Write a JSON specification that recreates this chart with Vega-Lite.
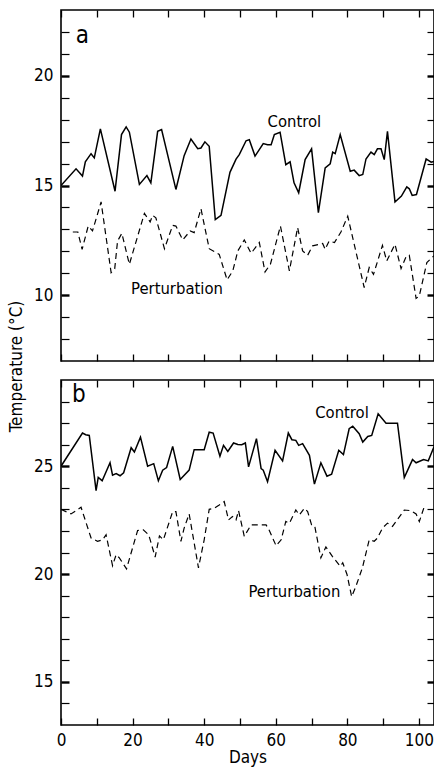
{
  "$schema": "https://vega.github.io/schema/vega-lite/v6.json",
  "padding": {"left": 6, "top": 8, "right": 1, "bottom": 2},
  "spacing": 19,
  "bounds": "flush",
  "datasets": {
    "temps": [
      {"panel":"a","series":"Control","day":0,"temp":15.0},
      {"panel":"a","series":"Control","day":4.2,"temp":15.76},
      {"panel":"a","series":"Control","day":6.0,"temp":15.43},
      {"panel":"a","series":"Control","day":6.8,"temp":16.08},
      {"panel":"a","series":"Control","day":8.4,"temp":16.45},
      {"panel":"a","series":"Control","day":9.3,"temp":16.26},
      {"panel":"a","series":"Control","day":11.0,"temp":17.58},
      {"panel":"a","series":"Control","day":15.1,"temp":14.74},
      {"panel":"a","series":"Control","day":16.9,"temp":17.32},
      {"panel":"a","series":"Control","day":18.2,"temp":17.67},
      {"panel":"a","series":"Control","day":19.1,"temp":17.43},
      {"panel":"a","series":"Control","day":21.9,"temp":15.05},
      {"panel":"a","series":"Control","day":24.0,"temp":15.45},
      {"panel":"a","series":"Control","day":25.1,"temp":15.12},
      {"panel":"a","series":"Control","day":27.0,"temp":17.47},
      {"panel":"a","series":"Control","day":28.1,"temp":17.55},
      {"panel":"a","series":"Control","day":32.1,"temp":14.82},
      {"panel":"a","series":"Control","day":34.4,"temp":16.36},
      {"panel":"a","series":"Control","day":36.3,"temp":17.12},
      {"panel":"a","series":"Control","day":38.2,"temp":16.68},
      {"panel":"a","series":"Control","day":39.1,"temp":16.71},
      {"panel":"a","series":"Control","day":40.2,"temp":16.99},
      {"panel":"a","series":"Control","day":41.4,"temp":16.79},
      {"panel":"a","series":"Control","day":43.1,"temp":13.45},
      {"panel":"a","series":"Control","day":44.7,"temp":13.64},
      {"panel":"a","series":"Control","day":47.2,"temp":15.6},
      {"panel":"a","series":"Control","day":48.9,"temp":16.2},
      {"panel":"a","series":"Control","day":49.8,"temp":16.41},
      {"panel":"a","series":"Control","day":51.7,"temp":17.04},
      {"panel":"a","series":"Control","day":52.6,"temp":17.09},
      {"panel":"a","series":"Control","day":54.2,"temp":16.34},
      {"panel":"a","series":"Control","day":56.5,"temp":16.91},
      {"panel":"a","series":"Control","day":57.7,"temp":16.86},
      {"panel":"a","series":"Control","day":58.7,"temp":16.86},
      {"panel":"a","series":"Control","day":59.6,"temp":17.32},
      {"panel":"a","series":"Control","day":61.2,"temp":17.43},
      {"panel":"a","series":"Control","day":62.8,"temp":15.95},
      {"panel":"a","series":"Control","day":64.0,"temp":16.08},
      {"panel":"a","series":"Control","day":65.1,"temp":15.12},
      {"panel":"a","series":"Control","day":66.4,"temp":14.67},
      {"panel":"a","series":"Control","day":68.2,"temp":16.18},
      {"panel":"a","series":"Control","day":70.0,"temp":16.67},
      {"panel":"a","series":"Control","day":71.9,"temp":13.76},
      {"panel":"a","series":"Control","day":73.8,"temp":15.8},
      {"panel":"a","series":"Control","day":75.2,"temp":15.99},
      {"panel":"a","series":"Control","day":75.9,"temp":16.52},
      {"panel":"a","series":"Control","day":76.6,"temp":16.45},
      {"panel":"a","series":"Control","day":78.0,"temp":17.32},
      {"panel":"a","series":"Control","day":80.8,"temp":15.65},
      {"panel":"a","series":"Control","day":81.9,"temp":15.7},
      {"panel":"a","series":"Control","day":83.3,"temp":15.45},
      {"panel":"a","series":"Control","day":84.3,"temp":15.5},
      {"panel":"a","series":"Control","day":85.2,"temp":16.21},
      {"panel":"a","series":"Control","day":86.6,"temp":16.52},
      {"panel":"a","series":"Control","day":87.5,"temp":16.41},
      {"panel":"a","series":"Control","day":88.4,"temp":16.67},
      {"panel":"a","series":"Control","day":89.4,"temp":16.67},
      {"panel":"a","series":"Control","day":90.3,"temp":16.18},
      {"panel":"a","series":"Control","day":91.2,"temp":17.47},
      {"panel":"a","series":"Control","day":93.3,"temp":14.25},
      {"panel":"a","series":"Control","day":95.1,"temp":14.52},
      {"panel":"a","series":"Control","day":96.6,"temp":14.94},
      {"panel":"a","series":"Control","day":97.3,"temp":14.85},
      {"panel":"a","series":"Control","day":98.1,"temp":14.55},
      {"panel":"a","series":"Control","day":99.3,"temp":14.59},
      {"panel":"a","series":"Control","day":102.0,"temp":16.21},
      {"panel":"a","series":"Control","day":103.4,"temp":16.06},
      {"panel":"a","series":"Control","day":104.2,"temp":16.1},
      {"panel":"a","series":"Perturbation","day":3.3,"temp":12.88},
      {"panel":"a","series":"Perturbation","day":4.7,"temp":12.88},
      {"panel":"a","series":"Perturbation","day":5.9,"temp":12.09},
      {"panel":"a","series":"Perturbation","day":7.6,"temp":13.15},
      {"panel":"a","series":"Perturbation","day":8.8,"temp":12.93},
      {"panel":"a","series":"Perturbation","day":11.2,"temp":14.25},
      {"panel":"a","series":"Perturbation","day":14.0,"temp":11.03},
      {"panel":"a","series":"Perturbation","day":15.0,"temp":11.2},
      {"panel":"a","series":"Perturbation","day":15.8,"temp":12.47},
      {"panel":"a","series":"Perturbation","day":17.0,"temp":12.82},
      {"panel":"a","series":"Perturbation","day":19.1,"temp":11.41},
      {"panel":"a","series":"Perturbation","day":23.3,"temp":13.73},
      {"panel":"a","series":"Perturbation","day":24.9,"temp":13.34},
      {"panel":"a","series":"Perturbation","day":25.6,"temp":13.64},
      {"panel":"a","series":"Perturbation","day":26.5,"temp":13.53},
      {"panel":"a","series":"Perturbation","day":28.9,"temp":12.12},
      {"panel":"a","series":"Perturbation","day":31.2,"temp":13.18},
      {"panel":"a","series":"Perturbation","day":32.1,"temp":13.15},
      {"panel":"a","series":"Perturbation","day":34.0,"temp":12.52},
      {"panel":"a","series":"Perturbation","day":36.1,"temp":12.93},
      {"panel":"a","series":"Perturbation","day":37.2,"temp":12.85},
      {"panel":"a","series":"Perturbation","day":39.1,"temp":13.94},
      {"panel":"a","series":"Perturbation","day":41.4,"temp":12.12},
      {"panel":"a","series":"Perturbation","day":44.2,"temp":11.86},
      {"panel":"a","series":"Perturbation","day":46.4,"temp":10.7},
      {"panel":"a","series":"Perturbation","day":48.0,"temp":11.11},
      {"panel":"a","series":"Perturbation","day":49.4,"temp":12.02},
      {"panel":"a","series":"Perturbation","day":51.2,"temp":12.52},
      {"panel":"a","series":"Perturbation","day":53.1,"temp":11.91},
      {"panel":"a","series":"Perturbation","day":55.4,"temp":12.4},
      {"panel":"a","series":"Perturbation","day":57.0,"temp":11.06},
      {"panel":"a","series":"Perturbation","day":58.5,"temp":11.41},
      {"panel":"a","series":"Perturbation","day":61.3,"temp":13.15},
      {"panel":"a","series":"Perturbation","day":63.8,"temp":11.11},
      {"panel":"a","series":"Perturbation","day":66.1,"temp":13.08},
      {"panel":"a","series":"Perturbation","day":67.5,"temp":12.02},
      {"panel":"a","series":"Perturbation","day":68.9,"temp":11.82},
      {"panel":"a","series":"Perturbation","day":70.3,"temp":12.25},
      {"panel":"a","series":"Perturbation","day":73.1,"temp":12.36},
      {"panel":"a","series":"Perturbation","day":73.8,"temp":12.09},
      {"panel":"a","series":"Perturbation","day":74.9,"temp":12.47},
      {"panel":"a","series":"Perturbation","day":76.4,"temp":12.4},
      {"panel":"a","series":"Perturbation","day":78.2,"temp":12.88},
      {"panel":"a","series":"Perturbation","day":80.1,"temp":13.6},
      {"panel":"a","series":"Perturbation","day":84.7,"temp":10.35},
      {"panel":"a","series":"Perturbation","day":86.1,"temp":11.26},
      {"panel":"a","series":"Perturbation","day":87.3,"temp":10.95},
      {"panel":"a","series":"Perturbation","day":89.8,"temp":12.27},
      {"panel":"a","series":"Perturbation","day":91.0,"temp":11.56},
      {"panel":"a","series":"Perturbation","day":93.3,"temp":12.32},
      {"panel":"a","series":"Perturbation","day":95.0,"temp":11.21},
      {"panel":"a","series":"Perturbation","day":96.4,"temp":11.76},
      {"panel":"a","series":"Perturbation","day":97.3,"temp":11.82},
      {"panel":"a","series":"Perturbation","day":99.2,"temp":9.85},
      {"panel":"a","series":"Perturbation","day":100.1,"temp":9.97},
      {"panel":"a","series":"Perturbation","day":102.2,"temp":11.49},
      {"panel":"a","series":"Perturbation","day":103.4,"temp":11.67},
      {"panel":"a","series":"Perturbation","day":104.2,"temp":11.8},
      {"panel":"b","series":"Control","day":0,"temp":25.0},
      {"panel":"b","series":"Control","day":6.0,"temp":26.54},
      {"panel":"b","series":"Control","day":6.9,"temp":26.46},
      {"panel":"b","series":"Control","day":7.9,"temp":26.43},
      {"panel":"b","series":"Control","day":9.8,"temp":23.87},
      {"panel":"b","series":"Control","day":10.4,"temp":24.48},
      {"panel":"b","series":"Control","day":11.5,"temp":24.33},
      {"panel":"b","series":"Control","day":13.7,"temp":25.16},
      {"panel":"b","series":"Control","day":14.4,"temp":24.59},
      {"panel":"b","series":"Control","day":15.4,"temp":24.66},
      {"panel":"b","series":"Control","day":16.5,"temp":24.56},
      {"panel":"b","series":"Control","day":17.5,"temp":24.7},
      {"panel":"b","series":"Control","day":19.6,"temp":25.86},
      {"panel":"b","series":"Control","day":20.5,"temp":25.66},
      {"panel":"b","series":"Control","day":22.2,"temp":26.35},
      {"panel":"b","series":"Control","day":24.2,"temp":25.0},
      {"panel":"b","series":"Control","day":25.9,"temp":25.12},
      {"panel":"b","series":"Control","day":27.2,"temp":24.33},
      {"panel":"b","series":"Control","day":28.4,"temp":24.82},
      {"panel":"b","series":"Control","day":29.5,"temp":24.94},
      {"panel":"b","series":"Control","day":31.2,"temp":25.92},
      {"panel":"b","series":"Control","day":33.3,"temp":24.39},
      {"panel":"b","series":"Control","day":35.8,"temp":24.82},
      {"panel":"b","series":"Control","day":37.2,"temp":25.77},
      {"panel":"b","series":"Control","day":40.0,"temp":25.77},
      {"panel":"b","series":"Control","day":41.4,"temp":26.58},
      {"panel":"b","series":"Control","day":42.5,"temp":26.54},
      {"panel":"b","series":"Control","day":44.4,"temp":25.46},
      {"panel":"b","series":"Control","day":45.4,"temp":25.97},
      {"panel":"b","series":"Control","day":46.6,"temp":25.69},
      {"panel":"b","series":"Control","day":48.2,"temp":26.08},
      {"panel":"b","series":"Control","day":49.4,"temp":26.01},
      {"panel":"b","series":"Control","day":50.5,"temp":26.0},
      {"panel":"b","series":"Control","day":51.5,"temp":26.08},
      {"panel":"b","series":"Control","day":52.4,"temp":24.97},
      {"panel":"b","series":"Control","day":54.6,"temp":26.28},
      {"panel":"b","series":"Control","day":55.9,"temp":24.89},
      {"panel":"b","series":"Control","day":56.5,"temp":24.82},
      {"panel":"b","series":"Control","day":57.7,"temp":24.28},
      {"panel":"b","series":"Control","day":59.8,"temp":25.74},
      {"panel":"b","series":"Control","day":61.9,"temp":25.25},
      {"panel":"b","series":"Control","day":63.5,"temp":26.54},
      {"panel":"b","series":"Control","day":64.5,"temp":26.23},
      {"panel":"b","series":"Control","day":65.6,"temp":26.2},
      {"panel":"b","series":"Control","day":66.4,"temp":25.97},
      {"panel":"b","series":"Control","day":67.5,"temp":26.05},
      {"panel":"b","series":"Control","day":69.4,"temp":25.51},
      {"panel":"b","series":"Control","day":70.8,"temp":24.17},
      {"panel":"b","series":"Control","day":72.6,"temp":25.16},
      {"panel":"b","series":"Control","day":74.3,"temp":24.54},
      {"panel":"b","series":"Control","day":75.6,"temp":24.63},
      {"panel":"b","series":"Control","day":77.6,"temp":25.74},
      {"panel":"b","series":"Control","day":78.9,"temp":25.54},
      {"panel":"b","series":"Control","day":80.5,"temp":26.74},
      {"panel":"b","series":"Control","day":81.5,"temp":26.86},
      {"panel":"b","series":"Control","day":83.3,"temp":26.51},
      {"panel":"b","series":"Control","day":84.3,"temp":26.12},
      {"panel":"b","series":"Control","day":85.7,"temp":26.38},
      {"panel":"b","series":"Control","day":86.8,"temp":26.43},
      {"panel":"b","series":"Control","day":88.6,"temp":27.43},
      {"panel":"b","series":"Control","day":90.8,"temp":27.0},
      {"panel":"b","series":"Control","day":94.0,"temp":27.0},
      {"panel":"b","series":"Control","day":95.9,"temp":24.48},
      {"panel":"b","series":"Control","day":98.2,"temp":25.31},
      {"panel":"b","series":"Control","day":99.2,"temp":25.16},
      {"panel":"b","series":"Control","day":101.3,"temp":25.31},
      {"panel":"b","series":"Control","day":102.6,"temp":25.25},
      {"panel":"b","series":"Control","day":104.2,"temp":25.9},
      {"panel":"b","series":"Perturbation","day":0,"temp":23.0},
      {"panel":"b","series":"Perturbation","day":2.8,"temp":22.79},
      {"panel":"b","series":"Perturbation","day":5.6,"temp":23.1},
      {"panel":"b","series":"Perturbation","day":8.4,"temp":21.67},
      {"panel":"b","series":"Perturbation","day":10.2,"temp":21.52},
      {"panel":"b","series":"Perturbation","day":11.6,"temp":21.59},
      {"panel":"b","series":"Perturbation","day":12.6,"temp":21.82},
      {"panel":"b","series":"Perturbation","day":14.4,"temp":20.39},
      {"panel":"b","series":"Perturbation","day":15.4,"temp":20.9},
      {"panel":"b","series":"Perturbation","day":16.3,"temp":20.75},
      {"panel":"b","series":"Perturbation","day":18.3,"temp":20.24},
      {"panel":"b","series":"Perturbation","day":21.4,"temp":22.02},
      {"panel":"b","series":"Perturbation","day":23.0,"temp":22.05},
      {"panel":"b","series":"Perturbation","day":24.5,"temp":21.82},
      {"panel":"b","series":"Perturbation","day":26.3,"temp":20.79},
      {"panel":"b","series":"Perturbation","day":27.5,"temp":21.77},
      {"panel":"b","series":"Perturbation","day":28.6,"temp":21.59},
      {"panel":"b","series":"Perturbation","day":31.2,"temp":22.9},
      {"panel":"b","series":"Perturbation","day":32.1,"temp":22.9},
      {"panel":"b","series":"Perturbation","day":33.5,"temp":21.52},
      {"panel":"b","series":"Perturbation","day":34.4,"temp":22.13},
      {"panel":"b","series":"Perturbation","day":35.8,"temp":22.79},
      {"panel":"b","series":"Perturbation","day":38.4,"temp":20.29},
      {"panel":"b","series":"Perturbation","day":40.0,"temp":21.59},
      {"panel":"b","series":"Perturbation","day":41.4,"temp":23.0},
      {"panel":"b","series":"Perturbation","day":42.8,"temp":23.05},
      {"panel":"b","series":"Perturbation","day":44.2,"temp":23.2},
      {"panel":"b","series":"Perturbation","day":45.6,"temp":23.36},
      {"panel":"b","series":"Perturbation","day":46.8,"temp":22.51},
      {"panel":"b","series":"Perturbation","day":47.9,"temp":22.67},
      {"panel":"b","series":"Perturbation","day":48.9,"temp":22.51},
      {"panel":"b","series":"Perturbation","day":49.6,"temp":22.94},
      {"panel":"b","series":"Perturbation","day":51.2,"temp":21.75},
      {"panel":"b","series":"Perturbation","day":53.1,"temp":22.28},
      {"panel":"b","series":"Perturbation","day":54.9,"temp":22.28},
      {"panel":"b","series":"Perturbation","day":57.3,"temp":22.28},
      {"panel":"b","series":"Perturbation","day":58.2,"temp":22.02},
      {"panel":"b","series":"Perturbation","day":60.1,"temp":21.31},
      {"panel":"b","series":"Perturbation","day":61.5,"temp":21.59},
      {"panel":"b","series":"Perturbation","day":62.8,"temp":22.44},
      {"panel":"b","series":"Perturbation","day":63.8,"temp":22.36},
      {"panel":"b","series":"Perturbation","day":65.6,"temp":22.97},
      {"panel":"b","series":"Perturbation","day":66.6,"temp":22.74},
      {"panel":"b","series":"Perturbation","day":68.0,"temp":23.05},
      {"panel":"b","series":"Perturbation","day":68.9,"temp":22.9},
      {"panel":"b","series":"Perturbation","day":70.0,"temp":22.28},
      {"panel":"b","series":"Perturbation","day":70.9,"temp":22.21},
      {"panel":"b","series":"Perturbation","day":72.6,"temp":20.75},
      {"panel":"b","series":"Perturbation","day":74.0,"temp":21.26},
      {"panel":"b","series":"Perturbation","day":75.8,"temp":20.82},
      {"panel":"b","series":"Perturbation","day":78.0,"temp":20.36},
      {"panel":"b","series":"Perturbation","day":78.7,"temp":20.52},
      {"panel":"b","series":"Perturbation","day":79.9,"temp":19.98},
      {"panel":"b","series":"Perturbation","day":81.2,"temp":18.95},
      {"panel":"b","series":"Perturbation","day":82.4,"temp":19.44},
      {"panel":"b","series":"Perturbation","day":84.2,"temp":20.29},
      {"panel":"b","series":"Perturbation","day":86.1,"temp":21.59},
      {"panel":"b","series":"Perturbation","day":87.5,"temp":21.52},
      {"panel":"b","series":"Perturbation","day":88.4,"temp":21.67},
      {"panel":"b","series":"Perturbation","day":89.8,"temp":22.13},
      {"panel":"b","series":"Perturbation","day":91.2,"temp":22.36},
      {"panel":"b","series":"Perturbation","day":92.6,"temp":22.21},
      {"panel":"b","series":"Perturbation","day":95.9,"temp":22.97},
      {"panel":"b","series":"Perturbation","day":97.8,"temp":22.94},
      {"panel":"b","series":"Perturbation","day":99.2,"temp":22.79},
      {"panel":"b","series":"Perturbation","day":100.1,"temp":22.44},
      {"panel":"b","series":"Perturbation","day":101.5,"temp":23.13}
    ],
    "labels": [
      {"panel":"a","kind":"letter","label":"a","day":6,"temp":21.8},
      {"panel":"a","kind":"series","label":"Control","day":65.2,"temp":17.9},
      {"panel":"a","kind":"series","label":"Perturbation","day":32.4,"temp":10.3},
      {"panel":"b","kind":"letter","label":"b","day":5,"temp":28.3},
      {"panel":"b","kind":"series","label":"Control","day":78.5,"temp":27.46},
      {"panel":"b","kind":"series","label":"Perturbation","day":65.2,"temp":19.17}
    ]
  },
  "vconcat": [
    {
      "width": 373,
      "height": 351,
      "resolve": {"axis": {"x": "independent", "y": "independent"}},
      "layer": [
        {
          "data": {"name": "temps"},
          "transform": [{"filter": "datum.panel === 'a' && datum.series === 'Control'"}],
          "mark": {"type": "line", "color": "black", "strokeWidth": 1.5, "clip": true},
          "encoding": {
            "x": {"field": "day", "type": "quantitative", "scale": {"domain": [0, 104.2], "nice": false, "zero": false},
                  "axis": {"orient": "bottom", "values": [0,10,20,30,40,50,60,70,80,90,100], "labels": false, "domain": false, "offset": -7, "tickSize": 7, "tickWidth": 1.3, "title": null}},
            "y": {"field": "temp", "type": "quantitative", "scale": {"domain": [7, 23], "nice": false, "zero": false},
                  "axis": {"orient": "left", "values": [8,9,10,11,12,13,14,15,16,17,18,19,20,21,22],
                           "labelExpr": "datum.value % 5 === 0 ? datum.label : ''",
                           "domain": false, "offset": -8, "tickSize": 8,
                           "tickWidth": {"condition": {"test": "datum.value % 5 === 0", "value": 2.4}, "value": 1.2},
                           "labelPadding": 8,
                           "title": "Temperature (°C)", "titleAngle": -90, "titleX": -53, "titleY": 356,
                           "titleAlign": "center", "titleBaseline": "middle"}}
          }
        },
        {
          "data": {"name": "temps"},
          "transform": [{"filter": "datum.panel === 'a' && datum.series === 'Perturbation'"}],
          "mark": {"type": "line", "color": "black", "strokeWidth": 1.2, "strokeDash": [6, 4], "clip": true},
          "encoding": {
            "x": {"field": "day", "type": "quantitative", "scale": {"domain": [0, 104.2], "nice": false, "zero": false},
                  "axis": {"orient": "top", "values": [0,10,20,30,40,50,60,70,80,90,100], "labels": false, "domain": false, "offset": -7, "tickSize": 7, "tickWidth": 1.3, "title": null}},
            "y": {"field": "temp", "type": "quantitative", "scale": {"domain": [7, 23], "nice": false, "zero": false},
                  "axis": {"orient": "right", "values": [8,9,10,11,12,13,14,15,16,17,18,19,20,21,22], "labels": false,
                           "domain": false, "offset": -7, "tickSize": 7,
                           "tickWidth": {"condition": {"test": "datum.value % 5 === 0", "value": 2.4}, "value": 1.2},
                           "title": null}}
          }
        },
        {
          "data": {"name": "labels"},
          "transform": [{"filter": "datum.panel === 'a' && datum.kind === 'series'"}],
          "mark": {"type": "text", "fontSize": 16.5, "color": "black", "align": "center", "baseline": "middle"},
          "encoding": {
            "x": {"field": "day", "type": "quantitative", "scale": {"domain": [0, 104.2], "nice": false, "zero": false}, "axis": null},
            "y": {"field": "temp", "type": "quantitative", "scale": {"domain": [7, 23], "nice": false, "zero": false}, "axis": null},
            "text": {"field": "label"}
          }
        },
        {
          "data": {"name": "labels"},
          "transform": [{"filter": "datum.panel === 'a' && datum.kind === 'letter'"}],
          "mark": {"type": "text", "fontSize": 24, "color": "black", "align": "center", "baseline": "middle"},
          "encoding": {
            "x": {"field": "day", "type": "quantitative", "scale": {"domain": [0, 104.2], "nice": false, "zero": false}, "axis": null},
            "y": {"field": "temp", "type": "quantitative", "scale": {"domain": [7, 23], "nice": false, "zero": false}, "axis": null},
            "text": {"field": "label"}
          }
        }
      ]
    },
    {
      "width": 373,
      "height": 345,
      "resolve": {"axis": {"x": "independent", "y": "independent"}},
      "layer": [
        {
          "data": {"name": "temps"},
          "transform": [{"filter": "datum.panel === 'b' && datum.series === 'Control'"}],
          "mark": {"type": "line", "color": "black", "strokeWidth": 1.5, "clip": true},
          "encoding": {
            "x": {"field": "day", "type": "quantitative", "scale": {"domain": [0, 104.2], "nice": false, "zero": false},
                  "axis": {"orient": "bottom", "values": [0,10,20,30,40,50,60,70,80,90,100],
                           "labelExpr": "datum.value % 20 === 0 ? datum.label : ''", "labelFlush": false,
                           "domain": false, "offset": -7, "tickSize": 7, "tickWidth": 1.3, "labelPadding": 7, "title": "Days", "titlePadding": 1}},
            "y": {"field": "temp", "type": "quantitative", "scale": {"domain": [13, 29], "nice": false, "zero": false},
                  "axis": {"orient": "left", "values": [14,15,16,17,18,19,20,21,22,23,24,25,26,27,28],
                           "labelExpr": "datum.value % 5 === 0 ? datum.label : ''",
                           "domain": false, "offset": -8, "tickSize": 8,
                           "tickWidth": {"condition": {"test": "datum.value % 5 === 0", "value": 2.4}, "value": 1.2},
                           "labelPadding": 8, "title": null}}
          }
        },
        {
          "data": {"name": "temps"},
          "transform": [{"filter": "datum.panel === 'b' && datum.series === 'Perturbation'"}],
          "mark": {"type": "line", "color": "black", "strokeWidth": 1.2, "strokeDash": [6, 4], "clip": true},
          "encoding": {
            "x": {"field": "day", "type": "quantitative", "scale": {"domain": [0, 104.2], "nice": false, "zero": false},
                  "axis": {"orient": "top", "values": [0,10,20,30,40,50,60,70,80,90,100], "labels": false, "domain": false, "offset": -7, "tickSize": 7, "tickWidth": 1.3, "title": null}},
            "y": {"field": "temp", "type": "quantitative", "scale": {"domain": [13, 29], "nice": false, "zero": false},
                  "axis": {"orient": "right", "values": [14,15,16,17,18,19,20,21,22,23,24,25,26,27,28], "labels": false,
                           "domain": false, "offset": -7, "tickSize": 7,
                           "tickWidth": {"condition": {"test": "datum.value % 5 === 0", "value": 2.4}, "value": 1.2},
                           "title": null}}
          }
        },
        {
          "data": {"name": "labels"},
          "transform": [{"filter": "datum.panel === 'b' && datum.kind === 'series'"}],
          "mark": {"type": "text", "fontSize": 16.5, "color": "black", "align": "center", "baseline": "middle"},
          "encoding": {
            "x": {"field": "day", "type": "quantitative", "scale": {"domain": [0, 104.2], "nice": false, "zero": false}, "axis": null},
            "y": {"field": "temp", "type": "quantitative", "scale": {"domain": [13, 29], "nice": false, "zero": false}, "axis": null},
            "text": {"field": "label"}
          }
        },
        {
          "data": {"name": "labels"},
          "transform": [{"filter": "datum.panel === 'b' && datum.kind === 'letter'"}],
          "mark": {"type": "text", "fontSize": 24, "color": "black", "align": "center", "baseline": "middle"},
          "encoding": {
            "x": {"field": "day", "type": "quantitative", "scale": {"domain": [0, 104.2], "nice": false, "zero": false}, "axis": null},
            "y": {"field": "temp", "type": "quantitative", "scale": {"domain": [13, 29], "nice": false, "zero": false}, "axis": null},
            "text": {"field": "label"}
          }
        }
      ]
    }
  ],
  "config": {
    "font": "DejaVu Sans Condensed",
    "view": {"stroke": "black", "strokeWidth": 1.6},
    "text": {"font": "DejaVu Sans Condensed"},
    "axis": {
      "grid": false,
      "ticks": true,
      "tickColor": "black",
      "labelColor": "black",
      "titleColor": "black",
      "labelFont": "DejaVu Sans Condensed",
      "titleFont": "DejaVu Sans Condensed",
      "labelFontSize": 17,
      "titleFontSize": 17,
      "titleFontWeight": "normal"
    }
  }
}
